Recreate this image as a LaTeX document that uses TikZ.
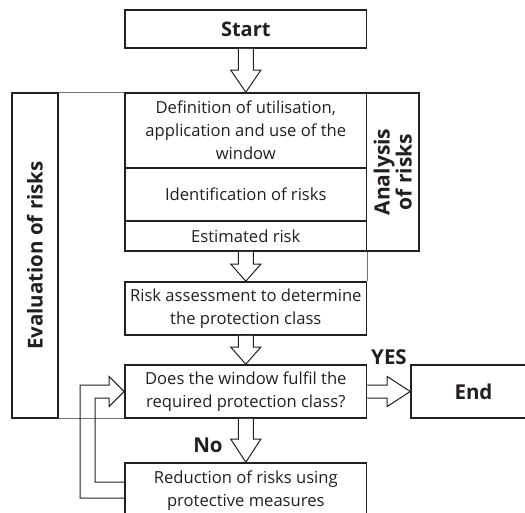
\documentclass[tikz,border=0pt]{standalone}
\usepackage{fontspec}
\setmainfont{Open Sans}
\usetikzlibrary{calc}
\definecolor{ink}{HTML}{231F20}
\newcommand\vhollow[3]{%
  \draw[hollow] ($(#1.south)+(-7.5pt,0pt)$) -- ($(#2.north)+(-7.5pt,#3)$) -- ($(#2.north)+(-15pt,#3)$) -- (#2.north) -- ($(#2.north)+(15pt,#3)$) -- ($(#2.north)+(7.5pt,#3)$) -- ($(#1.south)+(7.5pt,0pt)$);}
\begin{document}
\begin{tikzpicture}[x=1pt,y=-1pt,
  box/.style={draw=ink, line width=1.6pt, inner sep=0pt, align=center, text=ink,
    minimum width=241.7pt, font=\fontsize{16.6}{23}\selectfont},
  thinline/.style={draw=black!55, line width=0.8pt},
  hollow/.style={draw=ink, line width=1pt, fill=white, line join=miter},
  big/.style={font=\bfseries\fontsize{20.5}{22}\selectfont, text=ink, inner sep=0pt, align=center}]
\useasboundingbox (0,0) rectangle (525,513);
% group outlines
\node[box, minimum width=46pt, minimum height=325pt] (eval) at (35,255.5) {};
\node[box, minimum width=52.3pt, minimum height=158pt] (ana) at (392.8,172) {};
\node[box, minimum height=38pt] (start) at (245.8,29) {\bfseries\fontsize{20}{22}\selectfont Start};
\node[box, minimum height=75pt] (def) at (245.8,130.5) {Definition of utilisation,\\application and use of the\\window};
\node[box, minimum height=53pt] (ident) at (245.8,194.5) {Identification of risks};
\node[box, minimum height=30pt] (est) at (245.8,236) {Estimated risk};
\node[box, minimum height=53pt] (risk) at (245.8,308.5) {Risk assessment to determine\\the protection class};
\node[box, minimum height=53pt] (dec) at (245.8,391.5) {Does the window fulfil the\\required protection class?};
\node[box, minimum width=125pt, minimum height=53pt] (end) at (473.5,391.5) {\bfseries\fontsize{20.5}{22}\selectfont End};
\node[box, minimum height=56pt] (red) at (245.8,491) {Reduction of risks using\\protective measures};
\node[big, rotate=90] (evaltext) at (eval.center) {Evaluation of risks};
\node[big, rotate=90, font=\bfseries\fontsize{21}{22}\selectfont] (anatext) at (ana.center) {Analysis\\of risks};
% thin connecting lines
\draw[thinline] (eval.north east) -- (def.north west);
\draw[thinline] (eval.south east) -- (dec.south west);
\draw[thinline] (est.south east) -- (risk.north east);
% hollow arrows
\vhollow{start}{def}{22pt}
\vhollow{est}{risk}{17pt}
\vhollow{risk}{dec}{17pt}
\vhollow{dec}{red}{23pt}
\draw[hollow] ($(dec.east)+(0,6.5pt)$) -- ($(end.west)+(-23pt,6.5pt)$) -- ($(end.west)+(-23pt,15pt)$) -- (end.west) -- ($(end.west)+(-23pt,-15pt)$) -- ($(end.west)+(-23pt,-6.5pt)$) -- ($(dec.east)+(0,-6.5pt)$);
\coordinate (lo) at (80,385);
\draw[hollow, fill=none] ($(red.west)+(0,-7pt)$) -| (lo) -- ($(dec.west)+(-15pt,6.5pt)$) -- ($(dec.west)+(-15pt,15pt)$) -- (dec.west) -- ($(dec.west)+(-15pt,-15pt)$) -- ($(dec.west)+(-15pt,-6.5pt)$) -| ($(red.west)+(-29pt,9pt)$) -- ($(red.west)+(0,9pt)$);
% labels
\node[big] (yes) at (389,357) {YES};
\node[big] (no) at (208,445) {No};
\end{tikzpicture}
\end{document}
